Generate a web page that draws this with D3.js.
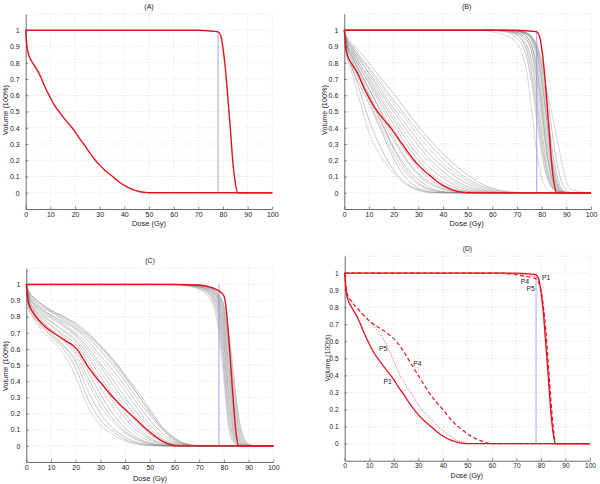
<!DOCTYPE html>
<html><head><meta charset="utf-8">
<script src="https://cdn.jsdelivr.net/npm/d3@7"></script>
<style>
html,body{margin:0;padding:0;background:#fff;}
svg{display:block;font-family:"Liberation Sans",Arial,Helvetica,sans-serif;}
</style></head>
<body><svg id="c" width="600" height="484"></svg>
<script>
// ---------------- DATA ----------------
const X_TICKS = [0,10,20,30,40,50,60,70,80,90,100];
const Y_TICKS = [0,0.1,0.2,0.3,0.4,0.5,0.6,0.7,0.8,0.9,1];
const PRESCRIPTION_DOSE = 78;
const PANEL_TITLES = ["(A)","(B)","(C)","(D)"];
const X_LABEL = "Dose (Gy)";
const Y_LABEL = "Volume (100%)";

// reference patient (P1) DVHs
const P1_OAR_DOSE = [0,0.5,1,2,3,4,5,6,7,8,10,12,14,16,18,20,22,24,26,28,30,32,34,36,38,40,43,46,48,50,100];
const P1_OAR_VOL  = [1,0.9,0.86,0.82,0.795,0.77,0.745,0.715,0.68,0.645,0.585,0.53,0.49,0.45,0.415,0.375,0.33,0.29,0.245,0.205,0.17,0.14,0.115,0.09,0.065,0.045,0.022,0.008,0.003,0,0];
const P1_PTV_DOSE = [0,70,74,76,78,79,80,81,82,83,84,85,86,100];
const P1_PTV_VOL  = [1,1,0.997,0.994,0.99,0.97,0.89,0.76,0.58,0.39,0.19,0.06,0,0];

// shared dose grids for the population curves
const GRID_OAR = [0,1,3,6,10,15,20,25,30,35,40,45,50,55,60,65,70,100];
const GRID_PTV = [0,55,60,65,70,72,74,76,78,80,82,84,86,88,90,92,100];

// panel B population
const B_OAR_GREY = [
 [1,0.85,0.74,0.58,0.37,0.22,0.12,0.05,0.015,0,0,0,0,0,0,0,0,0],
 [1,0.87,0.78,0.64,0.45,0.27,0.14,0.06,0.02,0.003,0,0,0,0,0,0,0,0],
 [1,0.85,0.77,0.67,0.55,0.38,0.21,0.09,0.03,0.006,0,0,0,0,0,0,0,0],
 [1,0.9,0.82,0.71,0.57,0.4,0.24,0.12,0.05,0.015,0.003,0,0,0,0,0,0,0],
 [1,0.87,0.79,0.7,0.59,0.43,0.27,0.14,0.06,0.02,0.005,0,0,0,0,0,0,0],
 [1,0.91,0.84,0.74,0.61,0.44,0.28,0.16,0.08,0.03,0.008,0.001,0,0,0,0,0,0],
 [1,0.89,0.82,0.72,0.6,0.46,0.32,0.2,0.11,0.05,0.02,0.005,0,0,0,0,0,0],
 [1,0.92,0.85,0.76,0.64,0.49,0.34,0.21,0.12,0.06,0.025,0.008,0.002,0,0,0,0,0],
 [1,0.9,0.84,0.75,0.64,0.5,0.37,0.25,0.15,0.08,0.035,0.012,0.003,0,0,0,0,0],
 [1,0.93,0.87,0.78,0.67,0.53,0.39,0.27,0.17,0.1,0.05,0.02,0.006,0.001,0,0,0,0],
 [1,0.91,0.86,0.78,0.68,0.55,0.42,0.3,0.2,0.12,0.065,0.03,0.01,0.003,0,0,0,0],
 [1,0.94,0.89,0.8,0.7,0.57,0.45,0.33,0.23,0.15,0.09,0.045,0.018,0.005,0.001,0,0,0],
 [1,0.92,0.87,0.8,0.71,0.59,0.47,0.36,0.26,0.18,0.11,0.06,0.028,0.01,0.002,0,0,0],
 [1,0.95,0.9,0.83,0.73,0.61,0.5,0.39,0.29,0.2,0.13,0.075,0.038,0.015,0.004,0,0,0],
 [1,0.93,0.88,0.82,0.74,0.63,0.52,0.42,0.32,0.23,0.16,0.1,0.055,0.025,0.008,0.001,0,0],
 [1,0.95,0.91,0.85,0.76,0.65,0.55,0.45,0.35,0.26,0.18,0.12,0.07,0.035,0.013,0.003,0,0],
 [1,0.94,0.9,0.84,0.77,0.67,0.57,0.47,0.38,0.29,0.21,0.14,0.085,0.045,0.02,0.006,0.001,0],
 [1,0.96,0.92,0.87,0.8,0.7,0.61,0.51,0.41,0.32,0.24,0.17,0.11,0.06,0.028,0.01,0.002,0]
];
const B_PTV_GREY = [
 [1,1,0.99,0.97,0.92,0.86,0.74,0.5,0.25,0.09,0.025,0.005,0,0,0,0,0],
 [1,1,0.998,0.99,0.95,0.91,0.83,0.67,0.46,0.25,0.1,0.035,0.01,0,0,0,0],
 [1,1,1,0.995,0.97,0.94,0.87,0.72,0.52,0.3,0.13,0.04,0.01,0,0,0,0],
 [1,1,1,0.995,0.97,0.94,0.89,0.77,0.57,0.34,0.15,0.05,0.012,0,0,0,0],
 [1,1,1,0.997,0.98,0.96,0.91,0.81,0.62,0.39,0.18,0.06,0.015,0.002,0,0,0],
 [1,1,1,0.998,0.985,0.97,0.94,0.86,0.69,0.47,0.24,0.09,0.025,0.004,0,0,0],
 [1,1,1,0.998,0.985,0.97,0.94,0.87,0.72,0.52,0.28,0.11,0.03,0.005,0,0,0],
 [1,1,1,1,0.995,0.985,0.96,0.9,0.76,0.54,0.27,0.09,0.02,0.003,0,0,0],
 [1,1,1,0.999,0.99,0.98,0.96,0.9,0.78,0.58,0.34,0.14,0.04,0.008,0,0,0],
 [1,1,1,1,0.995,0.985,0.97,0.93,0.82,0.63,0.39,0.17,0.05,0.01,0.001,0,0],
 [1,1,1,1,0.995,0.99,0.975,0.94,0.85,0.68,0.45,0.22,0.07,0.015,0.002,0,0],
 [1,1,1,1,0.998,0.993,0.98,0.95,0.87,0.7,0.46,0.2,0.06,0.01,0,0,0],
 [1,1,1,1,0.997,0.99,0.98,0.955,0.88,0.73,0.5,0.26,0.09,0.02,0.003,0,0],
 [1,1,1,1,0.998,0.995,0.985,0.96,0.9,0.77,0.55,0.3,0.12,0.03,0.005,0,0],
 [1,1,1,1,0.997,0.99,0.98,0.96,0.91,0.81,0.63,0.4,0.2,0.07,0.015,0.002,0],
 [1,1,1,1,0.995,0.99,0.98,0.95,0.89,0.78,0.64,0.5,0.35,0.2,0.07,0.02,0]
];

// panel C reference + population
const C_OAR_DOSE = [0,0.5,1.5,3,5,7.5,10,13,16,19,21,23,25,27,29,31,34,37,40,44,48,52,55,58,61,100];
const C_OAR_VOL  = [1,0.91,0.86,0.82,0.78,0.74,0.71,0.68,0.65,0.62,0.59,0.54,0.49,0.45,0.41,0.375,0.32,0.27,0.225,0.17,0.11,0.06,0.03,0.01,0,0];
const C_PTV_DOSE = [0,60,70,74,76,78,80,81,82,83,84,85,86,100];
const C_PTV_VOL  = [1,1,0.995,0.985,0.975,0.96,0.93,0.84,0.66,0.45,0.24,0.07,0,0];
const C_OAR_GREY = [
 [1,0.86,0.79,0.72,0.66,0.57,0.43,0.24,0.13,0.07,0.03,0.01,0.002,0,0,0,0,0],
 [1,0.85,0.8,0.74,0.68,0.6,0.48,0.29,0.16,0.09,0.04,0.015,0.004,0,0,0,0,0],
 [1,0.88,0.82,0.76,0.7,0.62,0.52,0.34,0.2,0.11,0.055,0.02,0.006,0.001,0,0,0,0],
 [1,0.87,0.81,0.75,0.69,0.62,0.54,0.39,0.25,0.15,0.08,0.035,0.01,0.002,0,0,0,0],
 [1,0.9,0.84,0.78,0.72,0.65,0.57,0.42,0.28,0.17,0.09,0.04,0.014,0.003,0,0,0,0],
 [1,0.89,0.83,0.77,0.72,0.66,0.59,0.46,0.32,0.2,0.11,0.05,0.018,0.004,0,0,0,0],
 [1,0.91,0.85,0.79,0.74,0.68,0.61,0.49,0.36,0.24,0.14,0.07,0.028,0.008,0.001,0,0,0],
 [1,0.9,0.85,0.8,0.75,0.69,0.63,0.52,0.4,0.28,0.17,0.09,0.04,0.012,0.002,0,0,0],
 [1,0.92,0.87,0.82,0.77,0.71,0.65,0.55,0.43,0.31,0.2,0.11,0.05,0.016,0.003,0,0,0],
 [1,0.91,0.86,0.81,0.77,0.72,0.66,0.57,0.46,0.35,0.24,0.14,0.07,0.025,0.005,0,0,0],
 [1,0.93,0.88,0.83,0.79,0.74,0.68,0.59,0.49,0.38,0.27,0.17,0.09,0.035,0.008,0.001,0,0],
 [1,0.92,0.88,0.84,0.8,0.75,0.69,0.61,0.51,0.41,0.3,0.2,0.11,0.045,0.012,0.002,0,0],
 [1,0.94,0.9,0.85,0.81,0.76,0.7,0.63,0.54,0.44,0.34,0.23,0.13,0.06,0.018,0.003,0,0],
 [1,0.93,0.89,0.85,0.81,0.77,0.72,0.65,0.56,0.47,0.37,0.26,0.16,0.08,0.025,0.005,0,0],
 [1,0.95,0.91,0.87,0.83,0.78,0.73,0.67,0.59,0.5,0.4,0.29,0.19,0.1,0.035,0.007,0,0],
 [1,0.94,0.9,0.86,0.83,0.79,0.74,0.68,0.61,0.52,0.42,0.32,0.21,0.11,0.04,0.008,0.001,0],
 [1,0.95,0.92,0.88,0.84,0.8,0.75,0.69,0.62,0.54,0.44,0.34,0.23,0.12,0.05,0.012,0.002,0],
 [1,0.96,0.92,0.88,0.84,0.8,0.76,0.7,0.62,0.53,0.43,0.32,0.21,0.11,0.045,0.01,0.001,0]
];
const C_PTV_GREY = [
 [1,1,0.998,0.99,0.97,0.95,0.92,0.85,0.7,0.4,0.1,0.02,0.002,0,0,0,0],
 [1,1,0.999,0.993,0.975,0.96,0.935,0.88,0.75,0.47,0.15,0.03,0.004,0,0,0,0],
 [1,1,1,0.995,0.98,0.965,0.945,0.9,0.79,0.53,0.19,0.045,0.007,0,0,0,0],
 [1,1,1,0.996,0.985,0.97,0.95,0.91,0.82,0.58,0.24,0.06,0.01,0.001,0,0,0],
 [1,1,1,0.997,0.985,0.975,0.955,0.92,0.84,0.63,0.29,0.08,0.015,0.002,0,0,0],
 [1,1,1,0.997,0.988,0.978,0.96,0.93,0.86,0.67,0.34,0.1,0.02,0.003,0,0,0],
 [1,1,1,0.998,0.99,0.98,0.965,0.94,0.88,0.71,0.4,0.13,0.03,0.005,0,0,0],
 [1,1,1,0.998,0.992,0.983,0.97,0.945,0.89,0.74,0.45,0.16,0.04,0.007,0.001,0,0],
 [1,1,1,0.999,0.993,0.986,0.975,0.95,0.9,0.77,0.5,0.2,0.05,0.01,0.001,0,0],
 [1,1,1,0.999,0.994,0.988,0.977,0.955,0.91,0.8,0.55,0.24,0.07,0.015,0.002,0,0],
 [1,1,1,1,0.995,0.99,0.98,0.96,0.92,0.82,0.59,0.29,0.09,0.02,0.003,0,0],
 [1,1,1,1,0.996,0.991,0.982,0.965,0.925,0.84,0.63,0.34,0.12,0.03,0.005,0.001,0],
 [1,1,1,1,0.997,0.993,0.985,0.97,0.93,0.86,0.67,0.39,0.15,0.04,0.008,0.001,0],
 [1,1,1,1,0.998,0.995,0.988,0.975,0.94,0.87,0.7,0.43,0.18,0.05,0.01,0.002,0]
];

// panel D: P4 (dashed) and P5 (dotted)
const P4_OAR_DOSE = [0,0.5,1,3,6,10,14,18,21,24,27,30,33,37,40,44,48,52,56,60,100];
const P4_OAR_VOL  = [1,0.93,0.88,0.83,0.78,0.72,0.68,0.64,0.6,0.54,0.47,0.4,0.33,0.25,0.2,0.13,0.08,0.04,0.015,0,0];
const P5_OAR_DOSE = [0,0.5,1,3,6,10,13,15,17,19,21,23,26,29,32,35,38,41,44,47,50,100];
const P5_OAR_VOL  = [1,0.93,0.88,0.83,0.78,0.72,0.67,0.63,0.58,0.52,0.45,0.39,0.32,0.25,0.19,0.15,0.1,0.065,0.035,0.012,0,0];
const P4_PTV_DOSE = [0,60,65,70,74,76,78,80,81,82,83,84,85,86,100];
const P4_PTV_VOL  = [1,1,0.998,0.99,0.98,0.975,0.965,0.9,0.8,0.66,0.47,0.27,0.1,0,0];
const P5_PTV_DOSE = [0,65,70,74,76,78,80,81,82,83,84,85,86,100];
const P5_PTV_VOL  = [1,1,0.995,0.99,0.985,0.975,0.91,0.81,0.64,0.43,0.23,0.07,0,0];
const D_LABELS = ["P1","P4","P5","P5","P4","P1"];
const D_LABEL_AT = [[82.1,0.972],[73.5,0.949],[75.8,0.91],[15.7,0.559],[29.6,0.467],[17.5,0.363]];

// ---------------- DRAWING ----------------
const svg = d3.select("#c");
const RED = "#e4141c", BLUE = "#8c8cf0", GREY = "#7a7a7a", AXIS = "#444", TXT = "#222";

const geoms = [
  {l:25.7, r:272.3, t:14,    b:209,   title:[149,8.5],  xl:[149,225.5], yl:[5.8,110]},
  {l:344.3,r:591,   t:14,    b:209,   title:[466.7,8.5],xl:[466.7,225.5],yl:[324.3,110]},
  {l:26.3, r:273.3, t:268.3, b:462,   title:[150,262.5],xl:[150,480.5],yl:[5.8,366]},
  {l:344.7,r:590,   t:256,   b:460.7, title:[467.3,250.8],xl:[466.7,477.8],yl:[327.5,358]}
];

function makePanel(i){
  const g = geoms[i];
  const fs = i===3 ? 6.6 : 7;
  const x = d3.scaleLinear().domain([0,100]).range([g.l,g.r]);
  const y = d3.scaleLinear().domain([-0.1,1.1]).range([g.b,g.t]);
  const p = svg.append("g");
  const grid = p.append("g").attr("stroke","#cfcfcf").attr("stroke-width",0.6).attr("stroke-dasharray","1,2");
  grid.selectAll(".gx").data(X_TICKS.slice(1)).enter().append("line")
    .attr("x1",d=>x(d)).attr("x2",d=>x(d)).attr("y1",g.t).attr("y2",g.b);
  grid.selectAll(".gy").data(Y_TICKS.concat([1.1])).enter().append("line")
    .attr("x1",g.l).attr("x2",g.r).attr("y1",d=>y(d)).attr("y2",d=>y(d));
  const ax = p.append("g").attr("transform",`translate(0,${g.b})`)
    .call(d3.axisBottom(x).tickValues(X_TICKS).tickFormat(d=>String(d)).tickSizeInner(-2.5).tickSizeOuter(0).tickPadding(3));
  const ay = p.append("g").attr("transform",`translate(${g.l},0)`)
    .call(d3.axisLeft(y).tickValues(Y_TICKS).tickFormat(d=>String(d)).tickSizeInner(-2.5).tickSizeOuter(0).tickPadding(6));
  [ax,ay].forEach(a=>{
    a.select(".domain").attr("stroke",AXIS).attr("stroke-width",0.8);
    a.selectAll(".tick line").attr("stroke",AXIS).attr("stroke-width",0.6);
    a.selectAll("text").attr("fill",TXT).style("font-size",fs+"px").style("font-family","Liberation Sans, Arial, sans-serif");
  });
  p.append("text").attr("x",g.title[0]).attr("y",g.title[1]).attr("text-anchor","middle")
    .attr("fill",TXT).style("font-size",fs+"px").text(PANEL_TITLES[i]);
  p.append("text").attr("x",g.xl[0]).attr("y",g.xl[1]).attr("text-anchor","middle")
    .attr("fill",TXT).style("font-size",(fs+0.5)+"px").text(X_LABEL);
  p.append("text").attr("transform",`translate(${g.yl[0]},${g.yl[1]}) rotate(-90)`).attr("text-anchor","middle")
    .attr("dy","0.35em").attr("fill",TXT).style("font-size",(fs+0.3)+"px").text(Y_LABEL);
  const line = d3.line().x(d=>x(d[0])).y(d=>y(d[1])).curve(d3.curveMonotoneX);
  const plot = p.append("g");
  return {x,y,line,plot};
}
function zip(a,b){ return a.map((d,i)=>[d,b[i]]); }
function greys(P, arr, grid){
  arr.forEach((vals,k)=>{
    P.plot.append("path").attr("d",P.line(zip(grid,vals))).attr("fill","none")
      .attr("stroke",GREY).attr("stroke-opacity",k%3===0?0.5:0.68).attr("stroke-width",0.6);
  });
}
function curve(P, dose, vol, dash, w){
  P.plot.append("path").attr("d",P.line(zip(dose,vol))).attr("fill","none")
    .attr("stroke",RED).attr("stroke-width",w||1.4).attr("stroke-dasharray",dash||null);
}
function presc(P){
  P.plot.append("line").attr("x1",P.x(PRESCRIPTION_DOSE)).attr("x2",P.x(PRESCRIPTION_DOSE))
    .attr("y1",P.y(0)).attr("y2",P.y(1)).attr("stroke",BLUE).attr("stroke-width",0.8);
}

const A = makePanel(0);
presc(A);
curve(A,P1_OAR_DOSE,P1_OAR_VOL); curve(A,P1_PTV_DOSE,P1_PTV_VOL);

const B = makePanel(1);
greys(B,B_OAR_GREY,GRID_OAR); greys(B,B_PTV_GREY,GRID_PTV);
presc(B);
curve(B,P1_OAR_DOSE,P1_OAR_VOL); curve(B,P1_PTV_DOSE,P1_PTV_VOL);

const C = makePanel(2);
greys(C,C_OAR_GREY,GRID_OAR); greys(C,C_PTV_GREY,GRID_PTV);
presc(C);
curve(C,C_OAR_DOSE,C_OAR_VOL); curve(C,C_PTV_DOSE,C_PTV_VOL);

const D = makePanel(3);
presc(D);
curve(D,P5_OAR_DOSE,P5_OAR_VOL,"0.8,1.6",0.9); curve(D,P5_PTV_DOSE,P5_PTV_VOL,"0.8,1.6",0.9);
curve(D,P4_OAR_DOSE,P4_OAR_VOL,"4,2.5",1.2); curve(D,P4_PTV_DOSE,P4_PTV_VOL,"4,2.5",1.2);
curve(D,P1_OAR_DOSE,P1_OAR_VOL,null,1.3); curve(D,P1_PTV_DOSE,P1_PTV_VOL,null,1.3);
D.plot.selectAll(".lab").data(D_LABELS).enter().append("text")
  .attr("x",(d,i)=>D.x(D_LABEL_AT[i][0])).attr("y",(d,i)=>D.y(D_LABEL_AT[i][1]))
  .attr("text-anchor","middle").attr("dy","0.35em")
  .attr("fill",TXT).style("font-size","6.8px").text(d=>d);
</script></body></html>
